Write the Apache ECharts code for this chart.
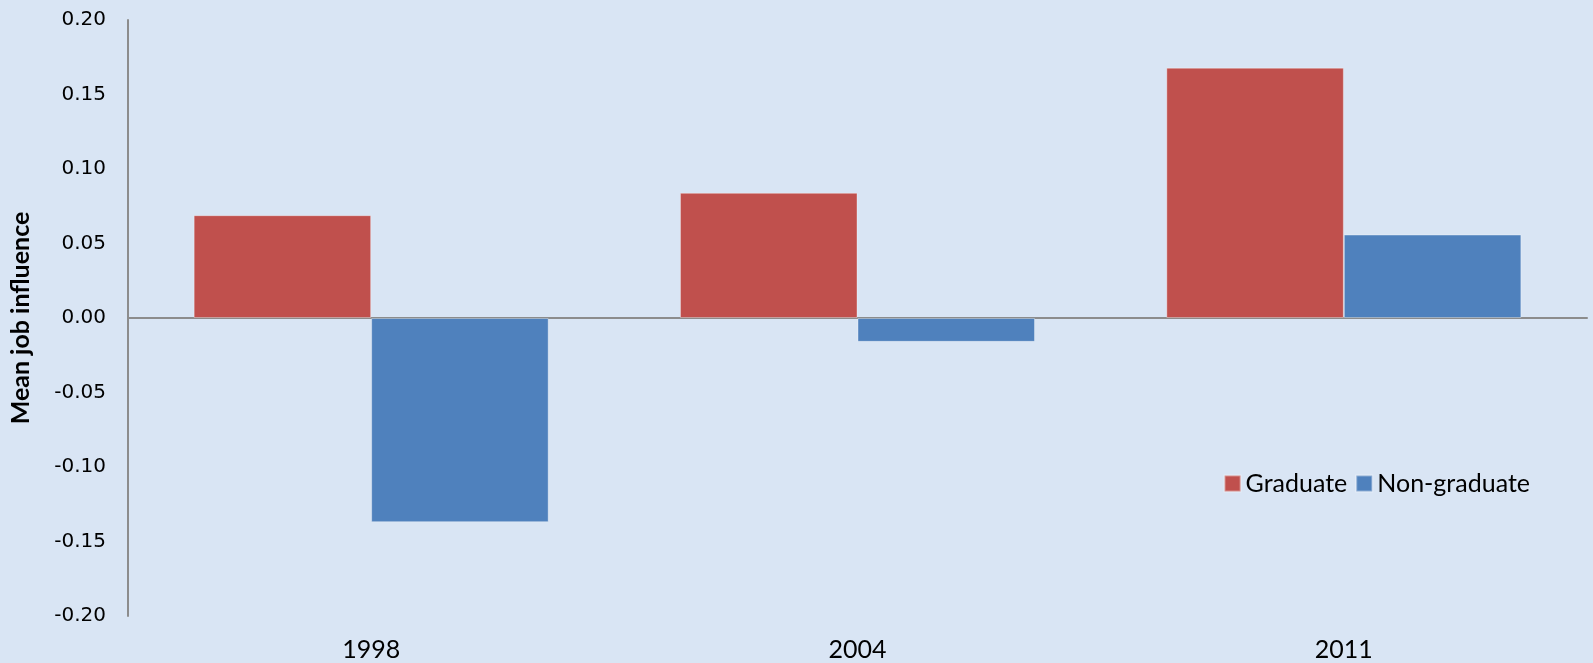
<!DOCTYPE html>
<html>
<head>
<meta charset="utf-8">
<script src="https://cdn.jsdelivr.net/npm/echarts@6/dist/echarts.min.js"></script>
<style>
  html, body { margin: 0; padding: 0; background: #D9E5F4; }
  #chart { width: 1593px; height: 663px; }
</style>
</head>
<body>
<div id="chart"></div>
<script>
// Survey years and mean job influence by education group
const years = ['1998', '2004', '2011'];
const graduate = [0.069, 0.084, 0.168];
const nonGraduate = [-0.137, -0.016, 0.056];
const yTicks = { min: -0.2, max: 0.2, interval: 0.05 };

const chart = echarts.init(document.getElementById('chart'));

const barStyle = (color) => ({
  color: color,
  borderColor: 'rgba(255,255,255,0.35)',
  borderWidth: 1
});

chart.setOption({
  backgroundColor: '#D9E5F4',
  animation: false,
  grid: { left: 122, right: 6, top: 20, bottom: 47 },
  legend: {
    right: 58,
    top: 466,
    itemWidth: 16,
    itemHeight: 16,
    itemGap: 8,
    icon: 'rect',
    textStyle: { fontFamily: 'Lato', fontSize: 25, color: '#000' },
    data: ['Graduate', 'Non-graduate']
  },
  xAxis: [
    {
      type: 'category',
      data: years,
      position: 'bottom',
      axisLine: { show: false, onZero: false },
      axisTick: { show: false },
      axisLabel: { fontFamily: 'Lato', fontSize: 25, color: '#000', margin: 21 }
    },
    {
      // baseline drawn through zero
      type: 'category',
      data: years,
      position: 'bottom',
      axisLine: { show: true, onZero: true, lineStyle: { color: '#8C8C8C', width: 2 } },
      axisTick: { show: false },
      axisLabel: { show: false }
    }
  ],
  yAxis: {
    type: 'value',
    min: yTicks.min,
    max: yTicks.max,
    interval: yTicks.interval,
    name: 'Mean job influence',
    nameLocation: 'middle',
    nameGap: 95,
    nameRotate: 90,
    nameTextStyle: { fontFamily: 'Lato', fontWeight: 'bold', fontSize: 25, color: '#000' },
    axisLine: { show: true, lineStyle: { color: '#8C8C8C', width: 2 } },
    axisTick: { show: false },
    splitLine: { show: false },
    axisLabel: {
      fontFamily: 'DejaVu Sans',
      fontSize: 20,
      color: '#000',
      margin: 22,
      formatter: (v) => v.toFixed(2)
    }
  },
  series: [
    {
      name: 'Graduate',
      type: 'bar',
      data: graduate,
      barGap: '0%',
      barCategoryGap: '27%',
      itemStyle: barStyle('#C0504D')
    },
    {
      name: 'Non-graduate',
      type: 'bar',
      data: nonGraduate,
      barGap: '0%',
      barCategoryGap: '27%',
      itemStyle: barStyle('#4F81BD')
    }
  ]
});
</script>
</body>
</html>
